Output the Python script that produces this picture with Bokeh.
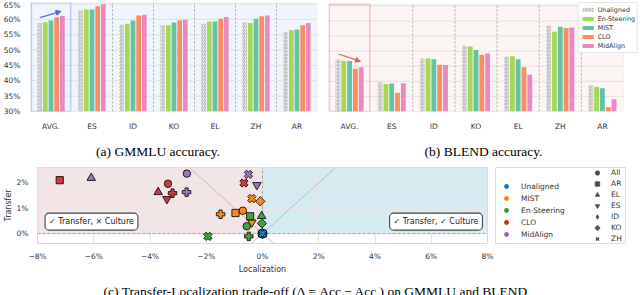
import math
from bokeh.plotting import figure
from bokeh.layouts import column, row
from bokeh.models import (FixedTicker, Span, BoxAnnotation, Arrow, NormalHead, Label,
                          Legend, LegendItem, Slope, ColumnDataSource, Grid)
from bokeh.embed import file_html
from bokeh.resources import INLINE

# ---------------- data ----------------
categories = ["AVG.", "ES", "ID", "KO", "EL", "ZH", "AR"]
bar_methods = ["Unaligned", "En-Steering", "MIST", "CLO", "MidAlign"]

gmmlu_unaligned = [58.8, 63.0, 58.3, 58.1, 58.6, 59.0, 56.0]
gmmlu_en_steering = [59.1, 63.2, 58.6, 58.1, 59.3, 58.8, 56.5]
gmmlu_mist = [59.6, 63.2, 59.6, 59.0, 59.3, 60.2, 56.7]
gmmlu_clo = [60.7, 64.3, 61.3, 59.6, 60.2, 61.0, 58.1]
gmmlu_midalign = [61.1, 64.9, 61.5, 59.9, 60.8, 61.3, 58.8]

blend_unaligned = [47.3, 39.6, 47.6, 51.8, 48.3, 58.4, 38.6]
blend_en_steering = [46.8, 39.1, 47.6, 51.5, 48.3, 56.4, 38.2]
blend_mist = [46.7, 39.3, 47.3, 50.4, 47.3, 58.1, 37.7]
blend_clo = [44.2, 36.2, 45.5, 48.8, 44.7, 57.7, 31.4]
blend_midalign = [44.7, 39.4, 45.4, 49.2, 42.2, 57.8, 34.1]

acc_ticks = [30, 35, 40, 45, 50, 55, 60, 65]
acc_tick_labels = ["30%", "35%", "40%", "45%", "50%", "55%", "60%", "65%"]

scatter_methods = ["Unaligned", "MIST", "En-Steering", "CLO", "MidAlign"]
scatter_subsets = ["All", "AR", "EL", "ES", "ID", "KO", "ZH"]

pt_method = (["MIST"] * 6 + ["En-Steering"] * 6 + ["CLO"] * 6 + ["MidAlign"] * 5
             + ["Unaligned"] * 7)
pt_subset = (["All", "AR", "ES", "ID", "KO", "ZH"]
             + ["All", "AR", "EL", "ID", "KO", "ZH"]
             + ["All", "AR", "EL", "ES", "KO", "ZH"]
             + ["All", "EL", "ES", "KO", "ZH"]
             + ["All", "AR", "EL", "ES", "ID", "KO", "ZH"])
pt_localization = ([-0.70, -0.96, -0.38, -0.08, -1.49, -0.38]
                   + [-0.56, -0.44, -0.03, -0.02, -0.49, -1.94]
                   + [-3.36, -7.21, -3.71, -3.40, -3.20, -0.66]
                   + [-2.69, -6.09, -0.20, -2.70, -0.50]
                   + [0.0, 0.0, 0.0, 0.0, 0.0, 0.0, 0.0])
pt_transfer = ([0.90, 0.81, 0.44, 1.27, 0.76, 1.38]
               + [0.29, 0.68, 0.69, 0.40, -0.11, -0.11]
               + [1.96, 2.10, 1.63, 1.36, 1.59, 1.99]
               + [2.36, 2.19, 1.91, 1.63, 2.33]
               + [0.0, 0.0, 0.0, 0.0, 0.0, 0.0, 0.0])

loc_ticks = [-8, -6, -4, -2, 0, 2, 4, 6, 8]
loc_tick_labels = ["\u22128%", "\u22126%", "\u22124%", "\u22122%", "0%", "2%", "4%", "6%", "8%"]
transfer_ticks = [0, 1, 2]
transfer_tick_labels = ["0%", "1%", "2%"]

caption_a = "(a) GMMLU accuracy."
caption_b = "(b) BLEND accuracy."
caption_c = "(c) Transfer-Localization trade-off (\u0394  = Acc     \u2212 Acc     ) on GMMLU and BLEND"

# ---------------- styles ----------------
SANS = "DejaVu Sans"
SERIF = "Liberation Serif"
TXT = "#333333"
bar_colors = {"Unaligned": "white", "En-Steering": "#a6d854", "MIST": "#66c2a5",
              "CLO": "#fc8d62", "MidAlign": "#e78ac3"}
method_colors = {"Unaligned": "#1f77b4", "MIST": "#ff7f0e", "En-Steering": "#2ca02c",
                 "CLO": "#d62728", "MidAlign": "#9467bd"}
subset_marker = {"All": "circle", "AR": "square", "EL": "triangle", "ES": "inverted_triangle",
                 "ID": "square", "KO": "plus", "ZH": "plus"}
subset_angle = {"All": 0, "AR": 0, "EL": 0, "ES": 0, "ID": math.pi / 4, "KO": 0, "ZH": math.pi / 4}
subset_size = {"All": 7.5, "AR": 7.2, "EL": 8.5, "ES": 8.5, "ID": 6.6, "KO": 8.5, "ZH": 8.5}
legend_marker = {"All": "circle", "AR": "square", "EL": "triangle", "ES": "inverted_triangle",
                 "ID": "diamond", "KO": "plus", "ZH": "x"}

BAR_PITCH = 0.138
BAR_WIDTH = 0.115
Y_MIN, Y_MAX = 30, 65.5
PX_PER_PCT = 115 / (Y_MAX - Y_MIN)
GROUP_PX = 295 / 7.0
ROW1_H = 133


def bar_panel(series, bg, box_color, arrow, width, border_left, border_right, border_top):
    frame_w = width - border_left - border_right
    frame_h = ROW1_H - border_top - 16
    x_end = -0.5 + frame_w / GROUP_PX
    y_end = Y_MIN + frame_h / PX_PER_PCT
    p = figure(width=width, height=ROW1_H, x_range=(-0.5, x_end), y_range=(Y_MIN, y_end),
               title=None, toolbar_location=None, output_backend="svg",
               min_border_left=border_left, min_border_right=border_right,
               min_border_top=border_top, min_border_bottom=16)
    p.border_fill_color = "white"
    p.xgrid.visible = False
    p.ygrid.visible = False
    p.background_fill_color = "white"
    p.outline_line_color = None
    p.add_layout(BoxAnnotation(left=-0.5, right=len(categories) - 0.5, bottom=Y_MIN, top=Y_MAX,
                               fill_color=bg, fill_alpha=1, line_color="#d9d9d9", line_width=1,
                               level="underlay"))
    p.segment(x0=-0.5, x1=len(categories) - 0.5, y0=acc_ticks, y1=acc_ticks,
              line_color="#dcdcdc", line_width=0.8)
    dividers = [k + 0.5 for k in range(1, len(categories) - 1)]
    p.segment(x0=dividers, x1=dividers, y0=Y_MIN, y1=Y_MAX, line_color="#9a9a9a",
              line_dash="2 2", line_width=0.8)
    rends = []
    for j, (name, vals) in enumerate(zip(bar_methods, series)):
        xs = [i + (j - 2) * BAR_PITCH for i in range(len(categories))]
        kw = dict(fill_color=bar_colors[name], line_color=None)
        if name == "Unaligned":
            kw.update(hatch_pattern="/", hatch_color="#a0a0a0", hatch_scale=3.5, hatch_weight=0.9)
        rends.append(p.vbar(x=xs, top=vals, bottom=Y_MIN, width=BAR_WIDTH, **kw))
    p.add_layout(BoxAnnotation(left=-0.48, right=0.48, bottom=Y_MIN, top=Y_MAX, fill_alpha=0,
                               line_color=box_color, line_width=1.6))
    (x0, y0), (x1, y1) = arrow
    p.add_layout(Arrow(end=NormalHead(size=5, fill_color=box_color, line_color=box_color),
                       x_start=x0, y_start=y0, x_end=x1, y_end=y1,
                       line_color=box_color, line_width=1.3))
    p.xaxis.ticker = FixedTicker(ticks=list(range(len(categories))))
    p.xaxis.major_label_overrides = {i: c for i, c in enumerate(categories)}
    p.yaxis.ticker = FixedTicker(ticks=acc_ticks)
    p.yaxis.major_label_overrides = dict(zip(acc_ticks, acc_tick_labels))
    for ax in (p.xaxis, p.yaxis):
        ax.axis_line_color = None
        ax.major_tick_line_color = None
        ax.minor_tick_line_color = None
        ax.major_label_text_font = SANS
        ax.major_label_text_font_size = "7.5px"
        ax.major_label_text_color = TXT
        ax.major_label_standoff = 4
    return p, rends


fa, _ = bar_panel([gmmlu_unaligned, gmmlu_en_steering, gmmlu_mist, gmmlu_clo, gmmlu_midalign],
                  "#eef5fc", "#4f6fe0", ((-0.27, 60.6), (0.245, 62.6)), 322, 22, 5, 2)
fb, bars_b = bar_panel([blend_unaligned, blend_en_steering, blend_mist, blend_clo, blend_midalign],
                       "#fdf4f4", "#dc6459", ((-0.26, 49.05), (0.26, 46.6)), 318, 6, 2, 0)
fb.yaxis.visible = False

leg_b = Legend(items=[LegendItem(label=n, renderers=[r]) for n, r in zip(bar_methods, bars_b)],
               location="top_right", orientation="vertical", padding=2, spacing=0, margin=0,
               label_height=9, glyph_height=5, glyph_width=14, label_standoff=3,
               label_text_font=SANS, label_text_font_size="6.4px", label_text_color=TXT,
               border_line_color="#cfcfcf", background_fill_color="white",
               background_fill_alpha=0.9)
fb.add_layout(leg_b)


def text_strip(height):
    p = figure(width=640, height=height, x_range=(0, 640), y_range=(0, height), title=None,
               toolbar_location=None, output_backend="svg", min_border=0,
               x_axis_location=None, y_axis_location=None)
    p.grid.visible = False
    p.outline_line_color = None
    p.background_fill_color = "white"
    p.border_fill_color = "white"
    return p


cap_ab = text_strip(27)
for cx, txt in ((157.5, caption_a), (483, caption_b)):
    cap_ab.add_layout(Label(x=cx, y=8.8, x_units="screen", y_units="screen", text=txt,
                            text_align="center", text_baseline="middle", text_font=SERIF,
                            text_font_size="13.5px", text_color="black"))

# ---------------- scatter ----------------
fc = figure(width=495, height=116, x_range=(-8, 8), y_range=(-0.39, 2.60), title=None,
            toolbar_location=None, output_backend="svg",
            min_border_left=27, min_border_right=8, min_border_top=7, min_border_bottom=22)
fc.background_fill_color = "white"
fc.border_fill_color = "white"
fc.outline_line_color = "#d9d9d9"
fc.grid.visible = False
fc.add_layout(BoxAnnotation(right=0, bottom=0, fill_color="#f3e5e6", fill_alpha=1,
                            line_alpha=0, level="underlay"))
fc.add_layout(BoxAnnotation(left=0, bottom=0, fill_color="#d5ebf1", fill_alpha=1,
                            line_alpha=0, level="underlay"))
fc.add_layout(Grid(dimension=0, ticker=FixedTicker(ticks=loc_ticks), grid_line_color="#e6e6e6",
                   grid_line_width=1, level="underlay"))
fc.add_layout(Grid(dimension=1, ticker=FixedTicker(ticks=transfer_ticks), grid_line_color="#e6e6e6",
                   grid_line_width=1, level="underlay"))
fc.add_layout(Slope(gradient=1, y_intercept=0, line_color="#b3b3b3", line_width=0.8, level="underlay"))
fc.add_layout(Slope(gradient=-1, y_intercept=0, line_color="#b3b3b3", line_width=0.8, level="underlay"))
fc.add_layout(Span(location=0, dimension="width", line_color="#9a9a9a", line_dash="3 2",
                   line_width=0.9, level="underlay"))
fc.segment(x0=[0], y0=[0], x1=[0], y1=[2.60], line_color="#9a9a9a", line_dash="3 2", line_width=0.9)

src = ColumnDataSource(dict(
    x=pt_localization, y=pt_transfer,
    color=[method_colors[m] for m in pt_method],
    marker=[subset_marker[s] for s in pt_subset],
    angle=[subset_angle[s] for s in pt_subset],
    size=[subset_size[s] for s in pt_subset],
))
fc.scatter(x="x", y="y", source=src, marker="marker", angle="angle", size="size",
           fill_color="color", fill_alpha=0.92, line_color="#111111", line_width=0.9)

for lx, txt in ((-6.08, "\u2713 Transfer, \u00d7 Culture"), (6.17, "\u2713 Transfer, \u2713 Culture")):
    fc.add_layout(Label(x=lx, y=0.47, text=txt, text_align="center",
                        text_baseline="middle", text_font=SANS, text_font_size="8px",
                        text_color="#222222", background_fill_color="white",
                        border_line_color="#444444", border_line_width=1.1,
                        border_radius=4, padding=4))

fc.xaxis.ticker = FixedTicker(ticks=loc_ticks)
fc.xaxis.major_label_overrides = dict(zip(loc_ticks, loc_tick_labels))
fc.yaxis.ticker = FixedTicker(ticks=transfer_ticks)
fc.yaxis.major_label_overrides = dict(zip(transfer_ticks, transfer_tick_labels))
fc.xaxis.axis_label = "Localization"
fc.yaxis.axis_label = "Transfer"
for ax in (fc.xaxis, fc.yaxis):
    ax.axis_line_color = None
    ax.major_tick_line_color = None
    ax.minor_tick_line_color = None
    ax.major_label_text_font = SANS
    ax.major_label_text_font_size = "7.5px"
    ax.major_label_text_color = TXT
    ax.axis_label_text_font = SANS
    ax.axis_label_text_font_size = "8px"
    ax.axis_label_text_font_style = "normal"
    ax.axis_label_text_color = TXT
    ax.axis_label_standoff = 1
fc.xaxis.major_label_standoff = 2
fc.yaxis.major_label_standoff = 3

# legend panel for the scatter (its frame is the legend box)
fl = figure(width=145, height=116, x_range=(0, 1), y_range=(0, 1), title=None,
            toolbar_location=None, output_backend="svg",
            min_border_left=0, min_border_right=15, min_border_top=7, min_border_bottom=22,
            x_axis_location=None, y_axis_location=None)
fl.grid.visible = False
fl.outline_line_color = "#dcdcdc"
fl.background_fill_color = "white"
fl.border_fill_color = "white"

NAN = float("nan")
color_items = []
for m in scatter_methods:
    r = fl.scatter(x=[NAN], y=[NAN], marker="circle", fill_color=method_colors[m], line_color=None)
    color_items.append(LegendItem(label=m, renderers=[r]))
marker_items = []
for s in scatter_subsets:
    r = fl.scatter(x=[NAN], y=[NAN], marker=legend_marker[s], fill_color="#4d4d4d",
                   line_color="#4d4d4d", line_width=1.4 if s == "ZH" else 0.8)
    marker_items.append(LegendItem(label=s, renderers=[r]))

common = dict(orientation="vertical", padding=0, spacing=0, glyph_width=12,
              label_text_font=SANS, label_text_font_size="7.5px", label_text_color=TXT,
              border_line_alpha=0, background_fill_alpha=0)
fl.add_layout(Legend(items=color_items, location=(5, 3), margin=0, label_standoff=9,
                     label_width=50, glyph_height=12, label_height=12, **common))
fl.add_layout(Legend(items=marker_items, location="top_right", margin=0, label_standoff=8,
                     label_width=14, glyph_height=11, label_height=11, **common))

cap_c = text_strip(19)
cap_c.add_layout(Label(x=331, y=12, x_units="screen", y_units="screen", text=caption_c,
                       text_align="center", text_baseline="top", text_font=SERIF,
                       text_font_size="13.5px", text_color="black"))

layout = column(row(fa, fb), cap_ab, row(fc, fl), cap_c)
open("out.html", "w").write(file_html(layout, INLINE))
